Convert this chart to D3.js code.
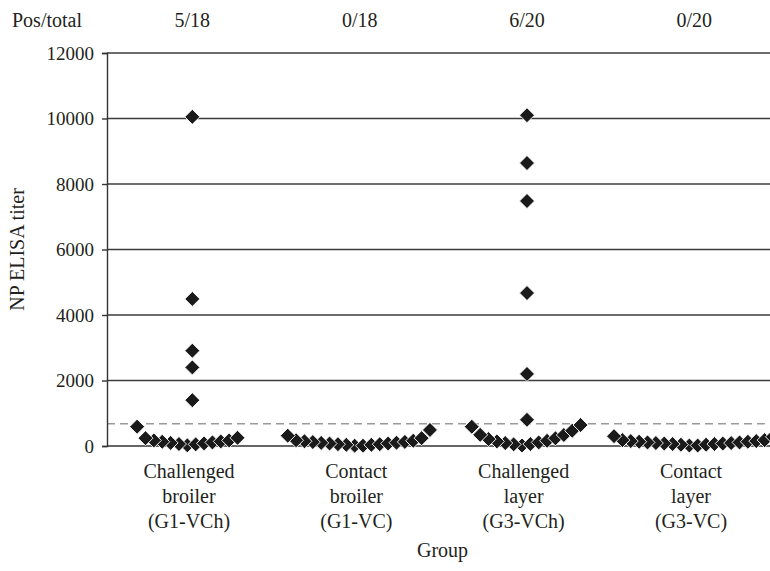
<!DOCTYPE html>
<html>
<head>
<meta charset="utf-8">
<script src="https://cdn.jsdelivr.net/npm/d3@7"></script>
<style>
  body { margin: 0; background: #fff; }
  text { font-family: "Liberation Serif", "DejaVu Serif", serif; fill: #231f20; }
</style>
</head>
<body>
<div id="chart"></div>
<script>
// group labels (one array of lines per group) and positives / total
var groupLines = [
  ["Challenged", "broiler", "(G1-VCh)"],
  ["Contact", "broiler", "(G1-VC)"],
  ["Challenged", "layer", "(G3-VCh)"],
  ["Contact", "layer", "(G3-VC)"]
];
var posTotal = ["5/18", "0/18", "6/20", "0/20"];
var yTicks = [0, 2000, 4000, 6000, 8000, 10000, 12000];
var cutoff = 680;

// x slot of each bird (0..80 along the axis) and its titer
var g1Slot  = [4, 5, 6, 7, 8, 9, 10, 11, 12, 13, 14, 15, 16, 10.6, 10.6, 10.6, 10.6, 10.6];
var g1Titer = [590, 240, 170, 130, 95, 60, 20, 50, 80, 110, 140, 170, 250, 10050, 4490, 2910, 2400, 1400];

var g2Slot  = [22, 23, 24, 25, 26, 27, 28, 29, 30, 31, 32, 33, 34, 35, 36, 37, 38, 39];
var g2Titer = [315, 175, 145, 120, 95, 75, 55, 35, 10, 10, 35, 55, 75, 100, 125, 160, 240, 490];

var g3Slot  = [44, 45, 46, 47, 48, 49, 50, 51, 52, 53, 54, 55, 56, 57, 50.6, 50.6, 50.6, 50.6, 50.6, 50.6];
var g3Titer = [589, 340, 210, 140, 90, 50, 15, 60, 110, 160, 235, 336, 467, 641, 10100, 8640, 7480, 4670, 2200, 800];

var g4Slot  = [61, 62, 63, 64, 65, 66, 67, 68, 69, 70, 71, 72, 73, 74, 75, 76, 77, 78, 79, 80];
var g4Titer = [300, 180, 150, 130, 110, 90, 75, 60, 40, 15, 15, 40, 60, 75, 90, 110, 130, 150, 180, 280];

var W = 770, H = 571;
var plotLeft = 107, plotRight = 770, plotTop = 53, plotBottom = 446;

var svg = d3.select("#chart").append("svg")
  .attr("width", W).attr("height", H);

var x = d3.scaleLinear().domain([0.4, 80]).range([plotLeft, 773]);
var y = d3.scaleLinear().domain([0, 12000]).range([plotBottom, plotTop]);

// gridlines
svg.append("g")
  .selectAll("line")
  .data(yTicks.slice(1))
  .enter().append("line")
    .attr("x1", plotLeft).attr("x2", plotRight)
    .attr("y1", function(d) { return y(d); })
    .attr("y2", function(d) { return y(d); })
    .attr("stroke", "#3c3c3c")
    .attr("stroke-width", 1.4);

// cutoff
svg.append("line")
  .attr("x1", plotLeft).attr("x2", plotRight)
  .attr("y1", y(cutoff)).attr("y2", y(cutoff))
  .attr("stroke", "#9a9a9a")
  .attr("stroke-width", 1.3)
  .attr("stroke-dasharray", "8,5");

// y axis
var yAxis = svg.append("g")
  .attr("transform", "translate(" + plotLeft + ",0)")
  .call(d3.axisLeft(y).tickValues(yTicks).tickSize(5).tickPadding(8).tickFormat(d3.format("d")));
yAxis.select(".domain").attr("stroke", "#333").attr("stroke-width", 1.4);
yAxis.selectAll(".tick line").attr("stroke", "#333").attr("stroke-width", 1.4);
yAxis.selectAll(".tick text")
  .style("font-family", "'Liberation Serif', serif")
  .style("font-size", "19px")
  .attr("fill", "#231f20");

// x axis baseline
svg.append("line")
  .attr("x1", plotLeft).attr("x2", plotRight)
  .attr("y1", y(0)).attr("y2", y(0))
  .attr("stroke", "#333").attr("stroke-width", 1.4);

// points, drawn low to high so the upper ones sit on top
var pts = [];
[[g1Slot, g1Titer], [g2Slot, g2Titer], [g3Slot, g3Titer], [g4Slot, g4Titer]].forEach(function(g) {
  g[0].forEach(function(s, i) { pts.push({slot: s, titer: g[1][i]}); });
});
pts.sort(function(a, b) { return a.titer - b.titer; });

svg.append("g")
  .selectAll("path")
  .data(pts)
  .enter().append("path")
    .attr("d", "M0,-7.5L7.5,0L0,7.5L-7.5,0Z")
    .attr("transform", function(d) { return "translate(" + x(d.slot) + "," + y(d.titer) + ")"; })
    .attr("fill", "#1a1a1a")
    .attr("stroke", "#fff")
    .attr("stroke-width", 0.9);

// top row
svg.append("text")
  .attr("x", 12).attr("y", 27)
  .style("font-size", "20px")
  .text("Pos/total");
svg.append("g")
  .selectAll("text")
  .data(posTotal)
  .enter().append("text")
    .attr("x", function(d, i) { return x(10.6 + 20 * i); })
    .attr("y", 27)
    .attr("text-anchor", "middle")
    .style("font-size", "20px")
    .text(function(d) { return d; });

// group labels
var gl = svg.append("g")
  .selectAll("text")
  .data(groupLines)
  .enter().append("text")
    .attr("text-anchor", "middle")
    .style("font-size", "20px");
gl.selectAll("tspan")
  .data(function(d, i) { return d.map(function(t) { return {t: t, i: i}; }); })
  .enter().append("tspan")
    .attr("x", function(d) { return x(10.2 + 20 * d.i); })
    .attr("y", function(d, j) { return 478 + j * 25; })
    .text(function(d) { return d.t; });

// axis titles
svg.append("text")
  .attr("x", (plotLeft + plotRight) / 2 + 4).attr("y", 557)
  .attr("text-anchor", "middle")
  .style("font-size", "20px")
  .text("Group");

svg.append("text")
  .attr("transform", "translate(24," + ((plotTop + plotBottom) / 2) + ") rotate(-90)")
  .attr("text-anchor", "middle")
  .style("font-size", "20px")
  .text("NP ELISA titer");
</script>
</body>
</html>
